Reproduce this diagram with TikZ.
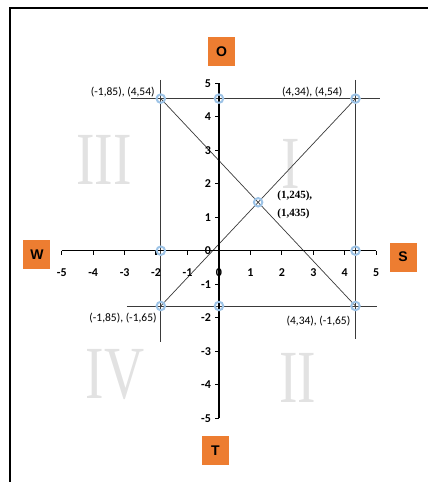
\documentclass[tikz,border=0pt]{standalone}
\usepackage{fontspec}
\setmainfont{Carlito}
\newfontfamily\tnr{Liberation Serif}
\newfontfamily\arl{Liberation Sans}
\usepackage{tikz}
\usetikzlibrary{positioning, calc}

\definecolor{boxorange}{HTML}{ED7D31}
\definecolor{mkblue}{HTML}{9DC3E6}
\definecolor{romgray}{HTML}{E2E2E2}
\definecolor{lingray}{HTML}{3A3A3A}

\begin{document}
\begin{tikzpicture}[x=31.45pt, y=33.5pt,
    dirbox/.style={fill=boxorange, minimum width=27pt, minimum height=29pt, inner sep=0pt,
      font=\arl\fontsize{14}{14}\selectfont\bfseries},
    mk/.style={circle, draw=mkblue, line width=2pt, minimum size=8.5pt, inner sep=0pt},
    guide/.style={lingray, line width=0.7pt},
    roman/.style={romgray, xscale=0.74, font=\tnr\fontsize{75}{75}\selectfont},
    ticklab/.style={font=\fontsize{12}{12}\selectfont\bfseries, inner sep=1pt},
    ptlab/.style={font=\fontsize{11.5}{13}\selectfont, inner sep=1pt}]
  \useasboundingbox (-6.963,-6.904) rectangle (6.645,7.484);
  % page frame
  \draw[line width=2pt] (-6.645,-6.904) -- (-6.645,7.245) -- (6.645,7.245);

  % quadrants
  \node[roman] (qIII) at (-3.66,2.70) {III};
  \node[roman] (qI)   at (2.29,2.59) {I};
  \node[roman] (qIV)  at (-3.31,-3.71) {IV};
  \node[roman] (qII)  at (2.51,-3.80) {II};

  % corner points
  \coordinate (tl) at (-1.85,4.54);
  \coordinate (tr) at (4.34,4.54);
  \coordinate (bl) at (-1.85,-1.65);
  \coordinate (br) at (4.34,-1.65);
  \coordinate (tm) at (0,4.54);
  \coordinate (bm) at (0,-1.65);
  \coordinate (lm) at (-1.85,0);
  \coordinate (rm) at (4.34,0);
  \coordinate (cx) at (1.245,1.445);

  % guide lines
  \coordinate (hta) at (-2.80,4.54);
  \coordinate (htb) at (5.12,4.54);
  \coordinate (hba) at (-2.93,-1.65);
  \coordinate (hbb) at (5.02,-1.65);
  \coordinate (vla) at (-1.85,5.10);
  \coordinate (vlb) at (-1.85,-2.73);
  \coordinate (vra) at (4.34,5.10);
  \coordinate (vrb) at (4.34,-2.64);
  \draw[guide] (hta) -- (htb);
  \draw[guide] (hba) -- (hbb);
  \draw[guide] (vla) -- (vlb);
  \draw[guide] (vra) -- (vrb);
  \draw[guide] (bl) -- (tr);
  \draw[guide] (tl) -- (br);

  % axes
  \coordinate (xa) at (-5,0);
  \coordinate (xb) at (5,0);
  \coordinate (ya) at (0,-5);
  \coordinate (yb) at (0,5);
  \draw[line width=1.5pt] (xa) -- (xb);
  \draw[line width=1.5pt] (ya) -- (yb);
  \foreach \i in {-5,...,5} {
    \draw[line width=1.2pt] (\i,0) -- (\i,-0.13);
    \draw[line width=1.2pt] (0,\i) -- (-0.13,\i);
    \node[ticklab] (xl\i) at (\i,-0.64) {\i};
    \node[ticklab, anchor=east] (yl\i) at (-0.22,\i) {\i};
  }

  % markers
  \foreach \p in {tl,tm,tr,lm,rm,bl,bm,br,cx}
    \node[mk] (mk-\p) at (\p) {};

  % point labels
  \node[ptlab, anchor=south east] (ltl) at ([xshift=-5pt,yshift=0pt]tl) {(-1,85), (4,54)};
  \node[ptlab, anchor=south east] (ltr) at ([xshift=-12pt,yshift=0pt]tr) {(4,34), (4,54)};
  \node[ptlab, anchor=north east] (lbl) at ([xshift=-3pt,yshift=-6pt]bl) {(-1,85), (-1,65)};
  \node[ptlab, anchor=north east] (lbr) at ([xshift=-4pt,yshift=-9pt]br) {(4,34), (-1,65)};
  \node[anchor=west, align=left, inner sep=0pt, font=\tnr\bfseries\fontsize{11}{18}\selectfont]
    (lcx) at ([xshift=19pt,yshift=-3pt]cx) {(1,245),\\(1,435)};

  % directions
  \node[dirbox] (dO) at (0.08,5.946) {O};
  \node[dirbox] (dW) at (-5.787,-0.113) {W};
  \node[dirbox] (dS) at (5.851,-0.188) {S};
  \node[dirbox] (dT) at (-0.111,-5.964) {T};
\end{tikzpicture}
\end{document}
